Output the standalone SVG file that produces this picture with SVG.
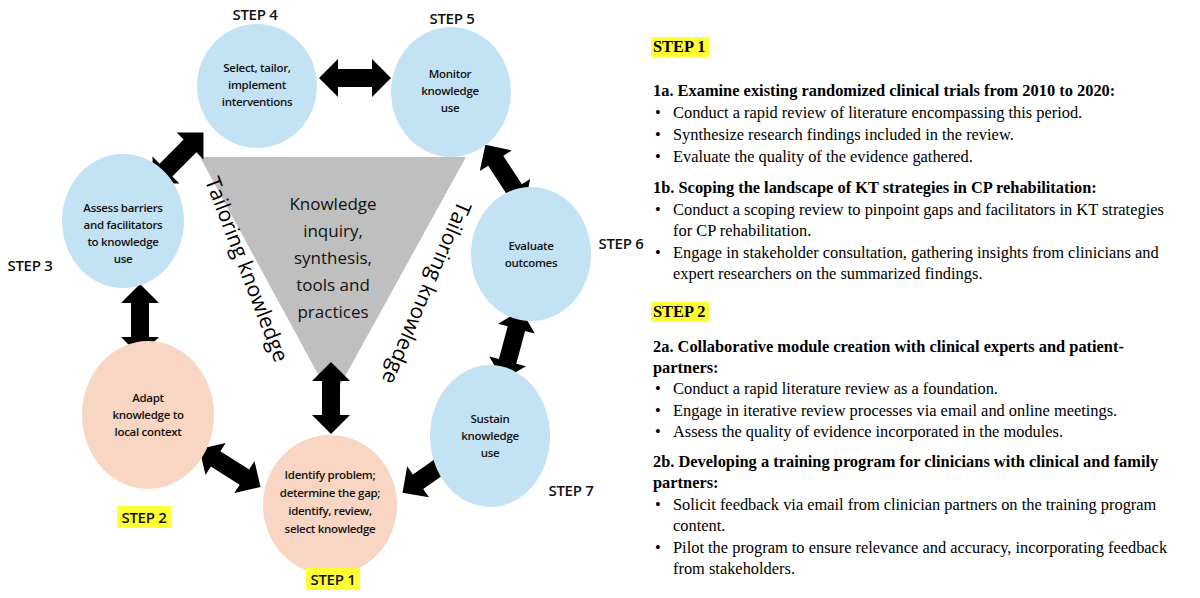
<svg xmlns="http://www.w3.org/2000/svg" width="1200" height="598" viewBox="0 0 1200 598">
<style>
.b{fill:#c3e3f5}.p{fill:#f9d5c3}
.n{font-family:"Open Sans","Liberation Sans",sans-serif;font-size:11.5px;font-weight:600;text-anchor:middle;fill:#111;letter-spacing:-0.3px}
.s{font-family:"Open Sans","Liberation Sans",sans-serif;font-size:15px;font-weight:600;text-anchor:middle;fill:#111;letter-spacing:-0.3px}
.c{font-family:"Open Sans","Liberation Sans",sans-serif;font-size:17px;text-anchor:middle;fill:#111}
.t{font-family:"Open Sans","Liberation Sans",sans-serif;font-size:21px;text-anchor:middle;fill:#000}
.r{font-family:"Liberation Serif",serif;font-size:16.4px;fill:#000}
.h{font-weight:bold}
.hl{fill:#ffff33}
</style>
<defs>
<path id="da" d="M-36,0 L-17,-19 L-17,-9 L17,-9 L17,-19 L36,0 L17,19 L17,9 L-17,9 L-17,19 Z" fill="#000"/>
</defs>
<rect width="1200" height="598" fill="#fff"/>
<polygon points="200,157 466,157 332,400" fill="#bfbfbf"/>
<text class="c"><tspan x="333" y="210">Knowledge</tspan><tspan x="333" y="237">inquiry,</tspan><tspan x="333" y="264">synthesis,</tspan><tspan x="333" y="291">tools and</tspan><tspan x="333" y="318">practices</tspan></text>
<text class="t" transform="translate(240,272) rotate(69)">Tailoring knowledge</text>
<text class="t" transform="translate(420,290) rotate(113)">Tailoring knowledge</text>
<g id="connectors">
<use href="#da" transform="translate(355,78)"/>
<use href="#da" transform="translate(178,158) rotate(-45)"/>
<use href="#da" transform="translate(505,175) rotate(57)"/>
<use href="#da" transform="translate(140,320) rotate(90)"/>
<use href="#da" transform="translate(512,345) rotate(-75)"/>
<use href="#da" transform="translate(331,398) rotate(90)"/>
<use href="#da" transform="translate(230,468) rotate(32)"/>
<use href="#da" transform="translate(432,472) rotate(-35)"/>
</g>
<g id="step4"><ellipse class="b" cx="257" cy="86" rx="60" ry="62"/><text class="n"><tspan x="257" y="72">Select, tailor,</tspan><tspan x="257" y="89">implement</tspan><tspan x="257" y="106">interventions</tspan></text><text class="s" x="255" y="20">STEP 4</text></g>
<g id="step5"><ellipse class="b" cx="451" cy="92" rx="60" ry="65"/><text class="n"><tspan x="450" y="78">Monitor</tspan><tspan x="450" y="95">knowledge</tspan><tspan x="450" y="112">use</tspan></text><text class="s" x="452" y="24">STEP 5</text></g>
<g id="step3"><ellipse class="b" cx="123" cy="221" rx="61" ry="67"/><text class="n"><tspan x="123" y="212">Assess barriers</tspan><tspan x="123" y="229">and facilitators</tspan><tspan x="123" y="246">to knowledge</tspan><tspan x="123" y="263">use</tspan></text><text class="s" x="30" y="271">STEP 3</text></g>
<g id="step6"><ellipse class="b" cx="531" cy="254" rx="60" ry="67"/><text class="n"><tspan x="531" y="250">Evaluate</tspan><tspan x="531" y="267">outcomes</tspan></text><text class="s" x="621" y="249">STEP 6</text></g>
<g id="step2"><ellipse class="p" cx="148" cy="415" rx="66" ry="74"/><text class="n"><tspan x="148" y="402">Adapt</tspan><tspan x="148" y="419">knowledge to</tspan><tspan x="148" y="436">local context</tspan></text><rect class="hl" x="117" y="506" width="54" height="22"/><text class="s" x="144" y="523">STEP 2</text></g>
<g id="step1"><ellipse class="p" cx="330" cy="505" rx="67" ry="70"/><text class="n"><tspan x="330" y="479">Identify problem;</tspan><tspan x="330" y="497">determine the gap;</tspan><tspan x="330" y="515">identify, review,</tspan><tspan x="330" y="533">select knowledge</tspan></text><rect class="hl" x="306" y="568" width="54" height="22"/><text class="s" x="333" y="585">STEP 1</text></g>
<g id="step7"><ellipse class="b" cx="490" cy="436" rx="60" ry="71"/><text class="n"><tspan x="490" y="423">Sustain</tspan><tspan x="490" y="440">knowledge</tspan><tspan x="490" y="457">use</tspan></text><text class="s" x="571" y="496">STEP 7</text></g>
<g id="text">
<rect class="hl" x="651" y="37" width="58" height="20"/>
<text class="r h" x="653" y="52">STEP 1</text>
<text class="r h" x="653" y="96">1a. Examine existing randomized clinical trials from 2010 to 2020:</text>
<text class="r" x="655" y="118">•</text><text class="r" x="673" y="118">Conduct a rapid review of literature encompassing this period.</text>
<text class="r" x="655" y="140">•</text><text class="r" x="673" y="140">Synthesize research findings included in the review.</text>
<text class="r" x="655" y="162">•</text><text class="r" x="673" y="162">Evaluate the quality of the evidence gathered.</text>
<text class="r h" x="653" y="193">1b. Scoping the landscape of KT strategies in CP rehabilitation:</text>
<text class="r" x="655" y="215">•</text><text class="r" x="673" y="215">Conduct a scoping review to pinpoint gaps and facilitators in KT strategies</text>
<text class="r" x="673" y="236">for CP rehabilitation.</text>
<text class="r" x="655" y="258">•</text><text class="r" x="673" y="258">Engage in stakeholder consultation, gathering insights from clinicians and</text>
<text class="r" x="673" y="279">expert researchers on the summarized findings.</text>
<rect class="hl" x="651" y="302" width="58" height="20"/>
<text class="r h" x="653" y="317">STEP 2</text>
<text class="r h" x="653" y="352">2a. Collaborative module creation with clinical experts and patient-</text>
<text class="r h" x="653" y="373">partners:</text>
<text class="r" x="655" y="394">•</text><text class="r" x="673" y="394">Conduct a rapid literature review as a foundation.</text>
<text class="r" x="655" y="416">•</text><text class="r" x="673" y="416">Engage in iterative review processes via email and online meetings.</text>
<text class="r" x="655" y="437">•</text><text class="r" x="673" y="437">Assess the quality of evidence incorporated in the modules.</text>
<text class="r h" x="653" y="467">2b. Developing a training program for clinicians with clinical and family</text>
<text class="r h" x="653" y="488">partners:</text>
<text class="r" x="655" y="510">•</text><text class="r" x="673" y="510">Solicit feedback via email from clinician partners on the training program</text>
<text class="r" x="673" y="531">content.</text>
<text class="r" x="655" y="553">•</text><text class="r" x="673" y="553">Pilot the program to ensure relevance and accuracy, incorporating feedback</text>
<text class="r" x="673" y="574">from stakeholders.</text>
</g>
</svg>
